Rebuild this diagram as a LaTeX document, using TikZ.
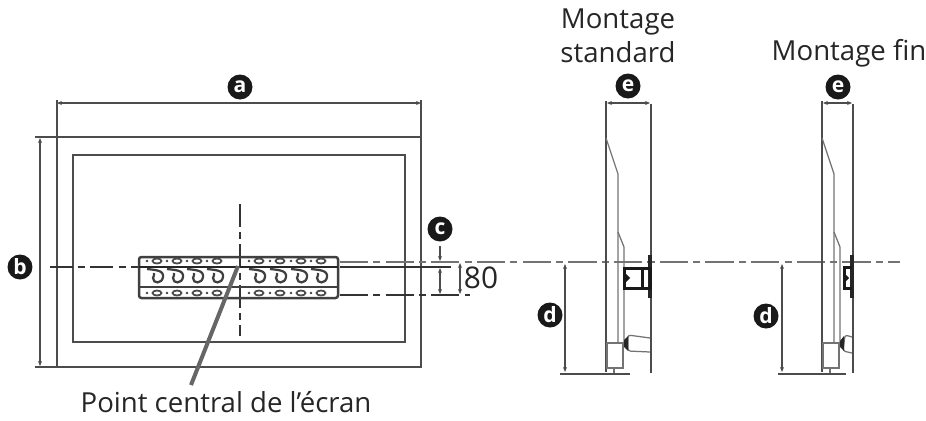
\documentclass[tikz,border=0pt]{standalone}
\usepackage{fontspec}
\setmainfont{Open Sans}
\usetikzlibrary{arrows.meta}
\tikzset{
	edge/.style={black!70, line width=0.5mm},
	thin edge/.style={black!55, line width=0.25mm},
	axis/.style={black!55, line width=0.35mm, dash pattern=on 16pt off 3pt on 4pt off 3pt},
	dim/.style={black!70, line width=0.3mm, {Stealth[length=1mm,width=0.8mm]}-{Stealth[length=1mm,width=0.8mm]}},
	mark letter/.style={circle, fill=black!90, text=white, inner sep=0pt, minimum size=0.5cm, font=\fontsize{12}{12}\selectfont\bfseries},
	label text/.style={font=\fontsize{15.7}{19.3}\selectfont, text=black!85, inner sep=0pt, align=center}
}
\def\hookshape(#1){\draw[black!75, line width=0.45mm] ([shift={(#1,269)}]-10,0) .. controls ([shift={(#1,269)}]-2,1) and ([shift={(#1,269)}]7,1) .. ([shift={(#1,269)}]6,8) .. controls ([shift={(#1,269)}]5,15) and ([shift={(#1,269)}]-4,15) .. ([shift={(#1,269)}]-4,9) .. controls ([shift={(#1,269)}]-4,7) and ([shift={(#1,269)}]-2,6) .. ([shift={(#1,269)}]-3,4);}
\def\sideview(#1,#2,#3){% left edge, right edge, inner edge
	\draw[edge] (#1, 101) -- (#1, 372);
	\draw[edge] (#2, 104) -- (#2, 373);
	\draw[thin edge] (#1, 138) -- (#3, 174) -- (#3, 343);
	\draw[thin edge] (#3, 232) -- (#3+6, 247) -- (#3+6, 343);
	\draw[thin edge] (#1+1, 343) rectangle (#3+5, 368);
	\draw[thin edge] (#1+8, 368) -- (#1+8, 373);
	\draw[line width=0.9mm, black!85] (#2-1, 255) -- (#2-1, 298);
}
\begin{document}
\begin{tikzpicture}[x=0.02cm, y=-0.02cm]
		%%%%% START %%%%%
		\useasboundingbox (0, 0) rectangle (926, 420);

		% front view
		\draw[edge] (57, 137) rectangle (421, 367);
		\draw[edge] (73, 155) rectangle (405, 342);
		\draw[edge] (57, 100) -- (57, 137);
		\draw[edge] (421, 100) -- (421, 137);
		\draw[dim] (57, 103) -- (421, 103);
		\draw[edge] (35, 137) -- (57, 137);
		\draw[edge] (35, 367) -- (57, 367);
		\draw[dim] (40, 138) -- (40, 366);
		\draw[black!80, line width=0.4mm, dash pattern=on 13pt off 3pt on 4pt off 3pt] (240, 204) -- (240, 336);
		\draw[black!80, line width=0.4mm, dash pattern=on 13pt off 3pt on 4pt off 3pt] (50, 267) -- (139, 267);

		% bracket
		\draw[edge, rounded corners=0.5mm, black!75] (139, 257) rectangle (338, 298);
		\draw[black!85, line width=0.5mm] (139, 267) -- (338, 267);
		\draw[edge, black!75] (139, 287) -- (338, 287);
		\foreach \hx in {157, 177, 197, 217, 259, 280, 301, 321} {
			\hookshape(\hx)
			\draw[black!70, line width=0.35mm] (\hx, 261) ellipse (4.5 and 2.5);
			\draw[black!70, line width=0.35mm] (\hx, 293) ellipse (4.5 and 2.5);
			\fill[black!75] (\hx-10, 261) circle (1.4);
			\fill[black!75] (\hx-10, 293) circle (1.4);
		}

		% levels running to the side views
		\draw[axis] (340, 262) -- (900, 262);
		\draw[edge, black!80] (340, 267) -- (451, 267);
		\draw[edge, black!80, dash pattern=on 16pt off 3pt on 4pt off 3pt] (340, 295) -- (470, 295);
		\draw[black!70, line width=0.3mm, -{Stealth[length=1mm,width=0.8mm]}] (440, 246) -- (440, 261);
		\draw[black!70, line width=0.3mm, {Stealth[length=1mm,width=0.8mm]}-{Stealth[length=1mm,width=0.8mm]}] (440, 268) -- (440, 294);
		\draw[dim] (460, 263) -- (460, 294);
		\node[label text, font=\fontsize{17}{17}\selectfont] (cote) at (481, 278) {80};

		% pointer to the screen centre
		\draw[black!60, line width=0.8mm] (238, 266) -- (191, 385);
		\node[label text] (centre) at (226, 402) {Point central de l’écran};

		% side views
		\sideview(606, 651, 618)
		\draw[line width=0.6mm, black!90] (624, 268) rectangle (650, 288);
		\draw[line width=0.6mm, black!90] (642, 268) -- (642, 288);
		\fill[black!90] (624, 272) -- (630, 278) -- (624, 284) -- cycle;
		\draw[thin edge, rounded corners=0.5mm] (650, 338) -- (628, 335) -- (628, 351) -- (650, 352);
		\fill[black!85] (624, 340) -- (628, 336) -- (628, 351) -- (624, 347) -- cycle;
		\draw[dim] (607, 103) -- (650, 103);
		\draw[edge] (560, 374) -- (630, 374);
		\draw[dim] (565, 264) -- (565, 372);

		\sideview(822, 853, 834)
		\draw[line width=0.6mm, black!90] (852, 267) -- (844, 267) -- (844, 288) -- (852, 288);
		\fill[black!90] (843, 272) -- (849, 278) -- (843, 284) -- cycle;
		\draw[thin edge, rounded corners=0.5mm] (852, 337) -- (845, 335) -- (843, 351) -- (852, 353);
		\fill[black!85] (840, 341) -- (844, 336) -- (844, 351) -- (840, 347) -- cycle;
		\draw[dim] (823, 103) -- (852, 103);
		\draw[edge] (778, 374) -- (846, 374);
		\draw[dim] (782, 264) -- (782, 372);

		% letters
		\node[mark letter] (a) at (240, 87) {a};
		\node[mark letter] (b) at (20, 267) {b};
		\node[mark letter] (c) at (440, 229) {c};
		\node[mark letter] (d1) at (550, 315) {d};
		\node[mark letter] (e1) at (628, 86) {e};
		\node[mark letter] (d2) at (766, 316) {d};
		\node[mark letter] (e2) at (838, 87) {e};

		\node[label text] (standard) at (618, 36) {Montage\\standard};
		\node[label text] (fin) at (849, 53) {Montage fin};
		%%%%% END %%%%%
	\end{tikzpicture}
\end{document}
